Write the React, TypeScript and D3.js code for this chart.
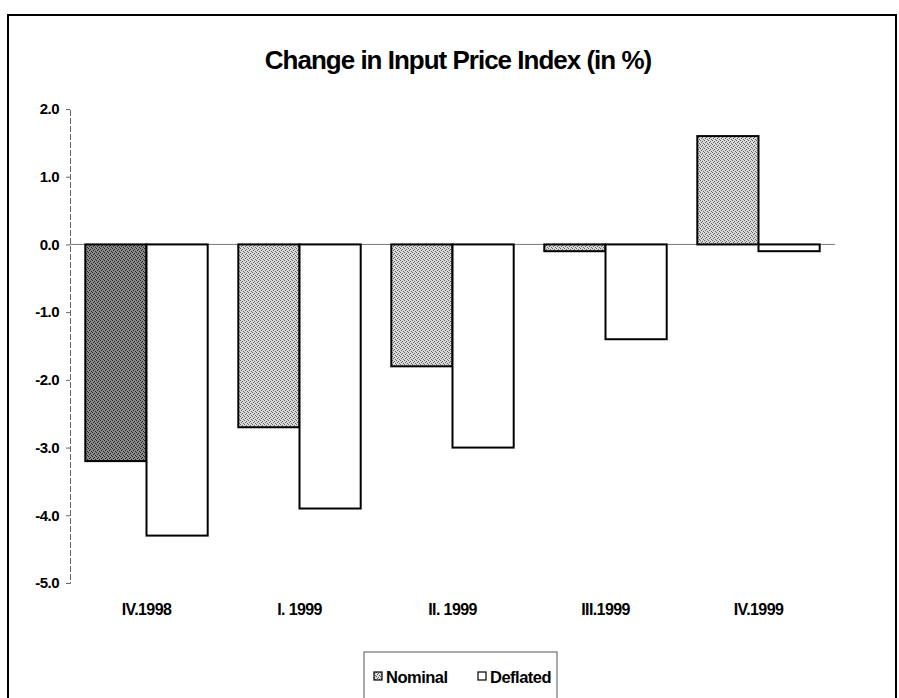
import React, { useEffect, useRef } from "react";
import * as d3 from "d3";

const categories = ["IV.1998", "I. 1999", "II. 1999", "III.1999", "IV.1999"];
const nominal = [-3.2, -2.7, -1.8, -0.1, 1.6];
const deflated = [-4.3, -3.9, -3.0, -1.4, -0.1];
const yTicks = [2, 1, 0, -1, -2, -3, -4, -5];
const seriesNames = ["Nominal", "Deflated"];

const App = () => {
  const svgRef = useRef<SVGSVGElement | null>(null);

  useEffect(() => {
    const svg = d3.select(svgRef.current);
    svg.selectAll("*").remove();

    const height = 698;
    const font = "'Liberation Sans', Arial, sans-serif";
    const plot = { left: 70, right: 835, top: 109, bottom: 583 };

    // stipple patterns for the nominal bars
    const defs = svg.append("defs");
    const makePattern = (id: string, bg: string, dot: string) => {
      const p = defs
        .append("pattern")
        .attr("id", id)
        .attr("width", 4)
        .attr("height", 4)
        .attr("patternUnits", "userSpaceOnUse");
      p.append("rect").attr("width", 4).attr("height", 4).attr("fill", bg);
      [[0, 0], [2, 1], [1, 2], [3, 3]].forEach(([px, py]) =>
        p.append("rect").attr("x", px).attr("y", py).attr("width", 1).attr("height", 1).attr("fill", dot)
      );
    };
    makePattern("stipDark", "#8a8a8a", "#222");
    makePattern("stipLight", "#d8d8d8", "#666");

    // outer frame
    svg
      .append("rect")
      .attr("x", 8)
      .attr("y", 15)
      .attr("width", 888)
      .attr("height", height)
      .attr("fill", "none")
      .attr("stroke", "#000")
      .attr("stroke-width", 2);

    // title
    svg
      .append("text")
      .attr("x", 458)
      .attr("y", 69)
      .attr("text-anchor", "middle")
      .attr("font-family", font)
      .attr("font-weight", "bold")
      .attr("font-size", 26)
      .attr("letter-spacing", -1)
      .text("Change in Input Price Index (in %)");

    const x0 = d3.scaleBand().domain(categories).range([plot.left, plot.right]);
    const barW = x0.bandwidth() / 2.5;
    const y = d3.scaleLinear().domain([-5, 2]).range([plot.bottom, plot.top]);

    // y axis
    const fmt = d3.format(".1f");
    const yAxis = svg
      .append("g")
      .attr("transform", `translate(${plot.left},0)`)
      .call(
        d3
          .axisLeft(y)
          .tickValues(yTicks)
          .tickSize(4)
          .tickFormat((d) => fmt(d as number).replace("\u2212", "-"))
      );
    yAxis.select(".domain").attr("stroke", "#666").attr("stroke-dasharray", "6,2");
    yAxis.selectAll(".tick line").attr("stroke", "#666");
    yAxis
      .selectAll(".tick text")
      .attr("x", -11)
      .attr("font-family", font)
      .attr("font-weight", "bold")
      .attr("font-size", 15)
      .attr("letter-spacing", -0.5)
      .attr("fill", "#000");

    // zero line
    svg
      .append("line")
      .attr("x1", plot.left)
      .attr("x2", plot.right)
      .attr("y1", y(0))
      .attr("y2", y(0))
      .attr("stroke", "#777")
      .attr("stroke-width", 1);

    // bars
    const g = svg.append("g");
    categories.forEach((c, i) => {
      const start = (x0(c) as number) + (x0.bandwidth() - 2 * barW) / 2;
      [nominal[i], deflated[i]].forEach((v, s) => {
        g.append("rect")
          .attr("x", start + s * barW)
          .attr("y", Math.min(y(v), y(0)))
          .attr("width", barW)
          .attr("height", Math.abs(y(v) - y(0)))
          .attr("fill", s === 1 ? "#fff" : i === 0 ? "url(#stipDark)" : "url(#stipLight)")
          .attr("stroke", "#000")
          .attr("stroke-width", 2);
      });
    });

    // category labels
    svg
      .append("g")
      .selectAll("text")
      .data(categories)
      .join("text")
      .attr("x", (d) => (x0(d) as number) + x0.bandwidth() / 2)
      .attr("y", 615)
      .attr("text-anchor", "middle")
      .attr("font-family", font)
      .attr("font-weight", "bold")
      .attr("font-size", 16)
      .attr("letter-spacing", -0.6)
      .text((d) => d);

    // legend
    const lg = svg.append("g");
    lg.append("rect")
      .attr("x", 364)
      .attr("y", 652)
      .attr("width", 193)
      .attr("height", 60)
      .attr("fill", "#fff")
      .attr("stroke", "#555")
      .attr("stroke-width", 1);
    const legendX = [374, 478];
    seriesNames.forEach((name, s) => {
      lg.append("rect")
        .attr("x", legendX[s])
        .attr("y", 672)
        .attr("width", 8)
        .attr("height", 8)
        .attr("fill", s === 0 ? "url(#stipLight)" : "#fff")
        .attr("stroke", "#000")
        .attr("stroke-width", 1.2);
      lg.append("text")
        .attr("x", legendX[s] + 12)
        .attr("y", 683)
        .attr("font-family", font)
        .attr("font-weight", "bold")
        .attr("font-size", 16.5)
        .attr("letter-spacing", -0.5)
        .text(name);
    });
  }, []);

  return <svg ref={svgRef} width={899} height={698} style={{ position: "absolute", left: 0, top: 0 }} />;
};

export default App;
